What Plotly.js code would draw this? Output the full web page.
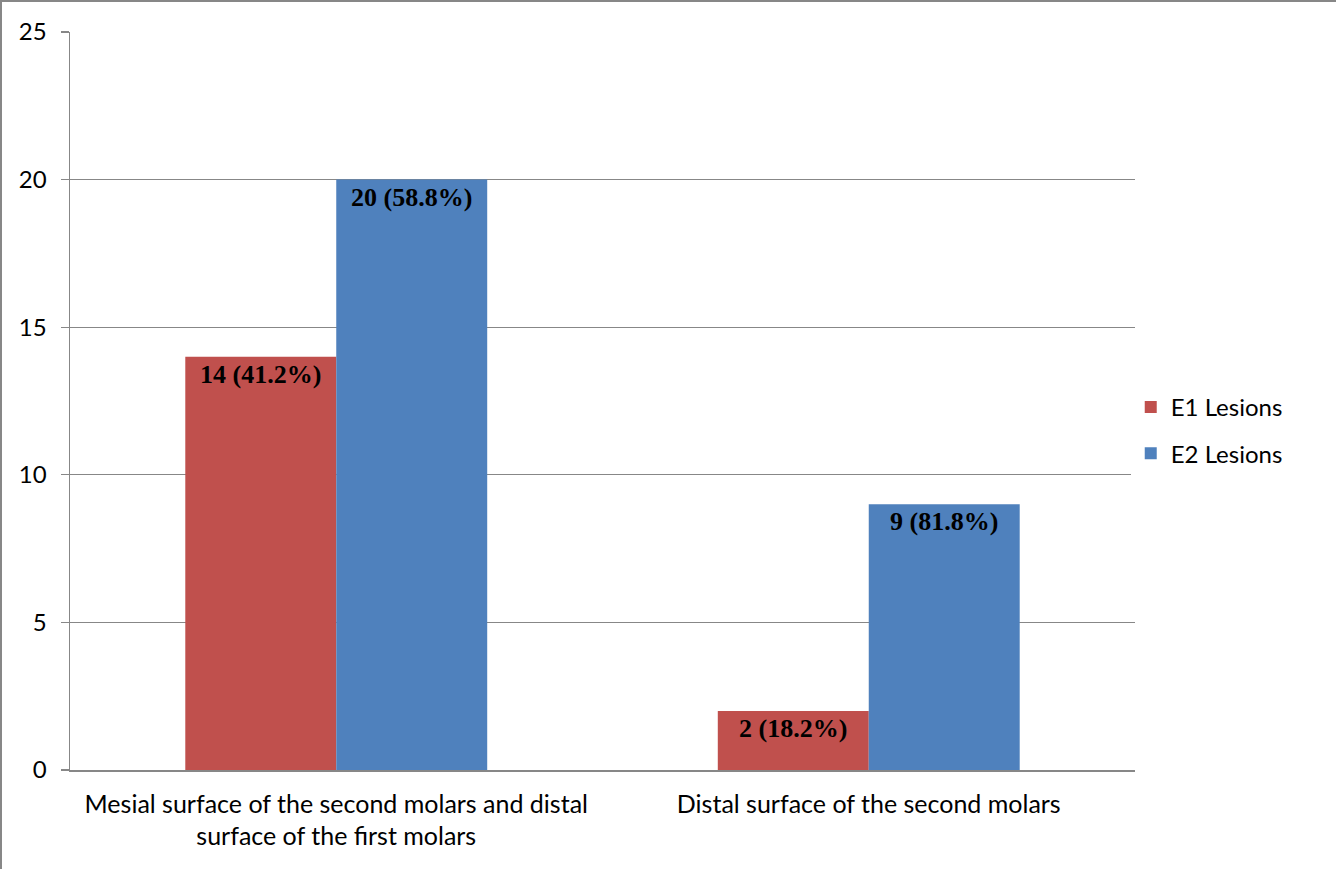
<!DOCTYPE html>
<html>
<head>
<meta charset="utf-8">
<script src="https://cdn.plot.ly/plotly-3.0.1.min.js"></script>
<style>
html,body{margin:0;padding:0;background:#fff;}
#chart{width:1336px;height:869px;box-sizing:border-box;border-top:2px solid #878787;border-left:2px solid #878787;}
</style>
</head>
<body>
<div id="chart"></div>
<script>
const categories = ["Mesial surface of the second molars and distal<br>surface of the first molars", "Distal surface of the second molars"];
const e1Values = [14, 2];
const e2Values = [20, 9];
const e1Labels = ["14 (41.2%)", "2 (18.2%)"];
const e2Labels = ["20 (58.8%)", "9 (81.8%)"];
const seriesNames = ["E1 Lesions", "E2 Lesions"];
const yTicks = [0, 5, 10, 15, 20, 25];

const labelFont = {family: "Liberation Serif, Times New Roman, serif", size: 26, color: "#000", weight: "bold"};

const traces = [
  {type: "bar", x: categories, y: e1Values, name: seriesNames[0], legendgroup: "a",
   marker: {color: "#C0504D"}, text: e1Labels, textposition: "inside", insidetextanchor: "end",
   constraintext: "none", textangle: 0, textfont: labelFont, hoverinfo: "none"},
  {type: "bar", x: categories, y: e2Values, name: seriesNames[1], legendgroup: "b",
   marker: {color: "#4F81BD"}, text: e2Labels, textposition: "inside", insidetextanchor: "end",
   constraintext: "none", textangle: 0, textfont: labelFont, hoverinfo: "none"}
];

const layout = {
  width: 1334, height: 867,
  margin: {l: 68, r: 201, t: 30, b: 99},
  paper_bgcolor: "#fff", plot_bgcolor: "#fff",
  barmode: "group", bargap: 0.433, bargroupgap: 0,
  font: {family: "Lato, Carlito, Calibri, sans-serif", size: 24, color: "#000"},
  showlegend: true,
  legend: {x: 0.996, xanchor: "left", y: 0.46, yanchor: "middle", traceorder: "grouped",
           tracegroupgap: 12, font: {size: 24, color: "#000"}, itemwidth: 30},
  xaxis: {showgrid: false, showline: true, linecolor: "#878787", linewidth: 1.5,
          ticks: "", tickfont: {size: 25, color: "#000"}, ticklabelstandoff: 11, fixedrange: true},
  yaxis: {range: [0, 25], tickvals: yTicks, showgrid: true, gridcolor: "#878787", gridwidth: 1.3,
          showline: true, linecolor: "#878787", linewidth: 1.5, ticks: "outside", ticklen: 8,
          tickcolor: "#878787", tickwidth: 1.3, ticklabelstandoff: 9, zeroline: false,
          tickfont: {size: 24, color: "#000"}, fixedrange: true}
};

Plotly.newPlot("chart", traces, layout, {displayModeBar: false, staticPlot: true});
</script>
</body>
</html>
